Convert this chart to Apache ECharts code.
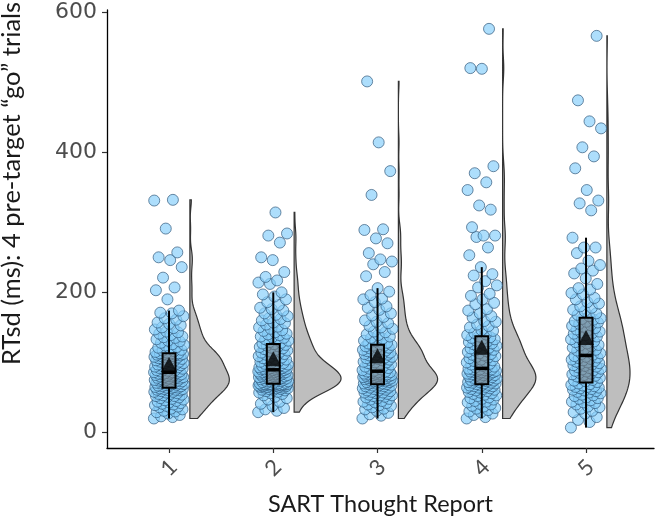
<!DOCTYPE html>
<html><head><meta charset="utf-8">
<script src="https://cdn.jsdelivr.net/npm/echarts@6/dist/echarts.min.js"></script>
<style>html,body{margin:0;padding:0;background:#fff}#c{width:657px;height:523px}</style>
</head><body><div id="c"></div>
<script>
const categories = ['1', '2', '3', '4', '5'];
const yTicks = [0, 200, 400, 600];

const g1 = [20,22,25,27,29,31,33,34,36,37,39,40,42,43,44,45,47,48,49,50,51,52,53,54,55,56,57,58,59,60,60,61,62,63,63,
  23,30,38,41,46,52,55,58,61,62,
  64,64,65,65,66,66,67,67,68,68,69,69,70,70,71,71,72,72,73,73,74,74,75,75,76,76,77,77,78,78,79,79,80,80,81,81,82,82,83,83,84,84,85,85,86,
  86,87,87,88,89,89,90,91,91,92,93,93,94,95,95,96,97,97,98,99,99,100,101,101,102,103,103,104,105,105,106,107,107,108,109,109,110,110,111,111,112,112,113,113,113,
  114,115,116,118,120,122,124,126,128,131,133,135,136,139,141,144,147,150,153,157,161,166,170,174,
  117,121,125,130,137,143,149,155,163,171,
  190,203,207,221,236,246,250,257,291,331,332];
const g2 = [29,31,33,35,38,41,44,47,49,51,53,55,56,57,58,59,60,61,61,62,62,63,63,64,64,64,65,65,65,66,66,66,67,67,67,67,68,68,68,68,68,69,69,69,69,69,69,
  70,70,71,71,71,72,73,73,73,74,74,75,75,76,76,77,77,78,78,78,79,79,80,80,80,81,81,82,82,82,83,83,84,84,84,85,85,86,86,86,87,87,87,88,88,89,89,
  90,90,90,91,91,91,92,92,93,93,94,94,95,95,96,96,97,98,98,99,100,101,102,103,104,105,106,107,108,109,110,111,112,113,114,115,116,117,118,119,120,121,122,123,124,125,126,
  127,129,131,133,135,137,139,141,143,146,148,151,154,157,160,163,166,170,174,178,182,186,190,194,197,200,
  128,132,136,140,145,150,156,162,168,176,
  212,214,217,222,229,246,250,271,281,284,314];
const g3 = [20,24,28,31,34,36,38,40,42,44,45,47,48,50,51,52,53,54,55,56,57,58,59,60,61,62,63,64,64,65,66,67,67,68,
  26,33,39,43,49,53,57,60,63,66,
  69,69,70,70,71,72,72,73,73,74,75,75,76,76,77,77,78,78,79,79,80,80,81,81,82,82,83,83,84,84,85,86,86,87,
  70,72,74,76,78,80,81,83,85,87,
  88,89,90,92,93,94,95,97,98,99,100,101,103,104,105,106,107,108,109,110,111,112,113,114,115,116,117,118,119,120,121,123,124,125,
  91,96,100,103,107,111,114,118,121,124,
  126,128,131,134,137,140,144,148,152,156,160,165,170,175,180,186,191,196,201,206,
  127,130,135,139,143,150,158,167,178,190,
  223,229,240,244,247,256,270,277,289,290,339,373,414,501];
const g4 = [20,22,25,27,29,30,32,34,35,37,38,40,41,43,44,45,47,48,49,50,52,53,54,55,56,57,58,59,60,61,62,62,63,64,64,65,66,66,67,67,68,
  69,70,71,71,72,73,74,74,75,76,77,78,78,79,80,81,81,82,83,84,84,85,86,86,87,88,88,89,90,90,91,
  70,72,75,77,79,82,84,86,88,90,
  92,94,95,97,98,100,101,103,104,106,107,109,110,112,113,115,116,118,119,121,122,124,125,127,128,130,131,133,134,136,137,
  93,99,102,108,111,117,120,126,129,135,
  139,142,146,150,154,159,164,170,176,183,190,198,207,216,226,236,
  140,145,152,158,166,174,185,195,210,224,
  253,264,279,281,281,293,318,324,346,357,370,380,519,520,576];
const g5 = [7,15,22,27,31,34,37,40,42,44,46,48,50,52,54,56,57,59,60,62,63,64,65,66,67,69,70,
  18,29,36,43,49,53,58,61,65,68,
  72,73,75,77,78,80,81,83,84,86,87,89,90,92,93,95,96,98,99,101,102,104,105,106,107,108,109,
  74,79,82,85,88,91,94,97,100,103,
  111,112,115,117,118,121,123,124,127,129,130,133,135,136,139,141,143,144,147,149,151,152,155,157,159,161,163,
  113,119,125,131,137,142,146,153,158,162,
  166,170,175,180,186,192,199,206,220,227,234,239,256,264,264,278,
  168,173,178,184,190,197,204,212,231,245,
  317,327,331,346,377,394,407,434,444,474,566];
const groups = [g1, g2, g3, g4, g5];

// layout constants (axis units)
const NUDGE = 0.2, VW = 0.45, BH = 0.062, JIT = 0.145;

function quant(s, p) { const h = (s.length - 1) * p, lo = Math.floor(h), hi = Math.min(lo + 1, s.length - 1); return s[lo] + (h - lo) * (s[hi] - s[lo]); }
const sortedGroups = groups.map(arr => [...arr].sort((a, b) => a - b));
const stats = sortedGroups.map(s => {
  const n = s.length;
  const q1 = quant(s, .25), med = quant(s, .5), q3 = quant(s, .75), iqr = q3 - q1;
  const lo = s.find(v => v >= q1 - 1.5 * iqr), hi = [...s].reverse().find(v => v <= q3 + 1.5 * iqr);
  const mean = s.reduce((a, b) => a + b, 0) / n;
  const sd = Math.sqrt(s.reduce((a, b) => a + (b - mean) ** 2, 0) / (n - 1));
  const bw = 0.9 * Math.min(sd, iqr / 1.34) * Math.pow(n, -0.2);
  const dens = []; const M = 160;
  for (let j = 0; j <= M; j++) {
    const y = s[0] + (s[n - 1] - s[0]) * j / M; let d = 0;
    for (const v of s) { const z = (y - v) / bw; d += Math.exp(-0.5 * z * z); }
    dens.push([y, d / (n * bw * Math.sqrt(2 * Math.PI))]);
  }
  return { q1, med, q3, lo, hi, mean, dens };
});
const maxD = Math.max(...stats.map(st => Math.max(...st.dens.map(d => d[1]))));

const pts = [];
sortedGroups.forEach((s, gi) => s.forEach((v, i) => {
  pts.push([gi + 1 + (((i * 0.6180339887) % 1) - 0.5) * 2 * JIT, v]);
}));

const chart = echarts.init(document.getElementById('c'));
chart.setOption({
  animation: false,
  backgroundColor: '#fff',
  grid: { left: 107, right: 3, top: 10, bottom: 75, containLabel: false, outerBoundsMode: 'none' },
  xAxis: {
    type: 'value', min: 0.405, max: 5.652,
    axisLine: { onZero: false, lineStyle: { color: '#000', width: 1.3 } },
    axisTick: { customValues: [1, 2, 3, 4, 5], length: 5, lineStyle: { color: '#333', width: 1.2 } },
    axisLabel: { customValues: [1, 2, 3, 4, 5], formatter: v => categories[Math.round(v) - 1],
      rotate: 45, align: 'center', verticalAlign: 'middle', margin: 20,
      fontFamily: 'Lato', fontSize: 22, color: '#4d4d4d' },
    splitLine: { show: false },
    name: 'SART Thought Report', nameLocation: 'middle', nameGap: 44,
    nameTextStyle: { fontFamily: 'Lato', fontSize: 23.5, color: '#1a1a1a' }
  },
  yAxis: {
    type: 'value', min: -22.1, max: 602.9,
    axisLine: { show: true, onZero: false, lineStyle: { color: '#000', width: 1.3 } },
    axisTick: { show: true, customValues: yTicks, length: 5, lineStyle: { color: '#333', width: 1.2 } },
    axisLabel: { customValues: yTicks, margin: 10, fontFamily: 'DejaVu Sans', fontSize: 22, color: '#4d4d4d' },
    splitLine: { show: false },
    name: 'RTsd (ms): 4 pre-target \u201Cgo\u201D trials', nameLocation: 'middle', nameGap: 82, nameRotate: 90,
    nameTextStyle: { fontFamily: 'Lato', fontSize: 25.5, color: '#1a1a1a', padding: [0, 0, 0, 91] }
  },
  series: [
    {
      type: 'custom', z: 1, silent: true,
      data: categories.map((c, i) => [i + 1, stats[i].med]),
      renderItem: (params, api) => {
        const st = stats[params.dataIndex], x0 = params.dataIndex + 1 + NUDGE;
        const p = [api.coord([x0, st.dens[0][0]])];
        st.dens.forEach(([y, d]) => p.push(api.coord([x0 + VW * d / maxD, y])));
        p.push(api.coord([x0, st.dens[st.dens.length - 1][0]]));
        return { type: 'polygon', shape: { points: p }, style: { fill: '#bebebe', stroke: '#333', lineWidth: 1.2 } };
      }
    },
    {
      type: 'scatter', z: 2, data: pts, symbolSize: 11,
      itemStyle: { color: 'rgba(135,206,250,0.85)', borderColor: 'rgba(45,85,120,0.85)', borderWidth: 1 }
    },
    {
      type: 'custom', z: 3, silent: true,
      data: categories.map((c, i) => [i + 1, stats[i].med]),
      renderItem: (params, api) => {
        const st = stats[params.dataIndex], x = params.dataIndex + 1;
        const c = (xx, yy) => api.coord([xx, yy]);
        const a = c(x - BH, st.q3), b = c(x + BH, st.q1);
        const m1 = c(x - BH, st.med), m2 = c(x + BH, st.med);
        const w1 = c(x, st.q3), w2 = c(x, st.hi), w3 = c(x, st.q1), w4 = c(x, st.lo);
        return { type: 'group', children: [
          { type: 'line', shape: { x1: w1[0], y1: w1[1], x2: w2[0], y2: w2[1] }, style: { stroke: '#000', lineWidth: 2 } },
          { type: 'line', shape: { x1: w3[0], y1: w3[1], x2: w4[0], y2: w4[1] }, style: { stroke: '#000', lineWidth: 2 } },
          { type: 'rect', shape: { x: a[0], y: a[1], width: b[0] - a[0], height: b[1] - a[1] }, style: { fill: 'rgba(120,120,120,0.55)', stroke: '#000', lineWidth: 2 } },
          { type: 'line', shape: { x1: m1[0], y1: m1[1], x2: m2[0], y2: m2[1] }, style: { stroke: '#000', lineWidth: 3.5 } }
        ] };
      }
    },
    {
      type: 'scatter', z: 4, silent: true, symbol: 'triangle', symbolSize: [16, 15],
      data: stats.map((st, i) => [i + 1, st.mean]), itemStyle: { color: '#000' }
    }
  ]
});
</script></body></html>
